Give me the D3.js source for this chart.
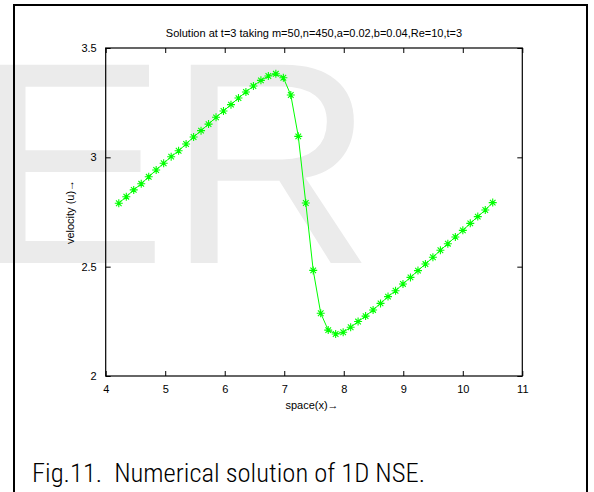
<!DOCTYPE html>
<html>
<head>
<meta charset="utf-8">
<script src="https://cdn.jsdelivr.net/npm/d3@7"></script>
<style>
html,body{margin:0;padding:0;background:#fff;}
svg{display:block;}
text{font-family:"Liberation Sans",Arial,Helvetica,sans-serif;}
</style>
</head>
<body>
<svg id="chart" width="594" height="492"></svg>
<script>
// ---- data ----
const xValues = [4.220,4.346,4.471,4.597,4.723,4.848,4.974,5.100,5.225,5.351,5.477,5.602,5.728,5.854,5.979,6.105,6.231,6.356,6.482,6.608,6.733,6.859,6.985,7.110,7.236,7.362,7.487,7.613,7.739,7.864,7.990,8.116,8.241,8.367,8.493,8.618,8.744,8.870,8.995,9.121,9.247,9.372,9.498,9.624,9.749,9.875,10.001,10.126,10.252,10.378,10.503];
const uValues = [2.790,2.820,2.851,2.879,2.911,2.942,2.973,3.003,3.030,3.061,3.093,3.122,3.152,3.183,3.212,3.241,3.271,3.299,3.326,3.352,3.372,3.382,3.364,3.285,3.096,2.791,2.483,2.287,2.210,2.192,2.200,2.223,2.249,2.274,2.302,2.332,2.363,2.390,2.421,2.451,2.482,2.512,2.543,2.575,2.605,2.636,2.666,2.698,2.729,2.759,2.793];
const xTicks = [4,5,6,7,8,9,10,11];
const yTicks = [2,2.5,3,3.5];
const titleText = "Solution at t=3 taking m=50,n=450,a=0.02,b=0.04,Re=10,t=3";
const xLabel = "space(x)\u2192";
const yLabel = "velocity (u)\u2192";
const captionText = "Fig.11.  Numerical solution of 1D NSE.";
const watermarkText = "ER";

const svg = d3.select("#chart");
const L = 105.7, R = 522.3, T = 48, B = 376;
const sans = '"Liberation Sans",Arial,sans-serif';

// watermark
svg.append("text").attr("x", -25).attr("y", 263)
  .attr("font-size", 288).attr("fill", "#ebebeb")
  .style("font-family", sans)
  .text(watermarkText);

// outer frame
svg.append("path").attr("d", "M14,492V5H587V492")
  .attr("fill", "none").attr("stroke", "#000").attr("stroke-width", 2);

const x = d3.scaleLinear().domain([4, 11]).range([L, R]);
const y = d3.scaleLinear().domain([2, 3.5]).range([B, T]);

const fmt = d => String(d);
const g = svg.append("g");
// bottom axis with inward ticks
g.append("g").attr("transform", `translate(0,${B})`)
  .call(d3.axisBottom(x).tickValues(xTicks).tickSize(-5).tickPadding(9).tickFormat(fmt))
  .call(s => { s.select(".domain").remove(); s.selectAll("text").attr("font-size", 11).attr("fill","#000").style("font-family",sans); s.selectAll("line").attr("stroke","#000"); });
// top ticks
g.append("g").attr("transform", `translate(0,${T})`)
  .call(d3.axisTop(x).tickValues(xTicks).tickSize(-5).tickFormat(""))
  .call(s => { s.select(".domain").remove(); s.selectAll("line").attr("stroke","#000"); });
// left axis
g.append("g").attr("transform", `translate(${L},0)`)
  .call(d3.axisLeft(y).tickValues(yTicks).tickSize(-5).tickPadding(9).tickFormat(fmt))
  .call(s => { s.select(".domain").remove(); s.selectAll("text").attr("font-size", 11).attr("fill","#000").style("font-family",sans); s.selectAll("line").attr("stroke","#000"); });
// right ticks
g.append("g").attr("transform", `translate(${R},0)`)
  .call(d3.axisRight(y).tickValues(yTicks).tickSize(-5).tickFormat(""))
  .call(s => { s.select(".domain").remove(); s.selectAll("line").attr("stroke","#000"); });
// box
g.append("rect").attr("x", L).attr("y", T).attr("width", R - L).attr("height", B - T)
  .attr("fill", "none").attr("stroke", "#000").attr("stroke-width", 1.2);

// data
const pts = xValues.map((v, i) => [v, uValues[i]]);
const line = d3.line().x(d => x(d[0])).y(d => y(d[1]));
svg.append("path").datum(pts).attr("d", line)
  .attr("fill", "none").attr("stroke", "#00ff00").attr("stroke-width", 1);
const star = (cx, cy) => {
  const a = 4, b = 2.8;
  return `M${cx-a},${cy}H${cx+a}M${cx},${cy-a}V${cy+a}M${cx-b},${cy-b}L${cx+b},${cy+b}M${cx-b},${cy+b}L${cx+b},${cy-b}`;
};
svg.append("g").selectAll("path").data(pts).join("path")
  .attr("d", d => star(x(d[0]), y(d[1])))
  .attr("fill", "none").attr("stroke", "#00ff00").attr("stroke-width", 1.1);

// title and labels
svg.append("text").attr("x", (L + R) / 2).attr("y", 37).attr("text-anchor", "middle")
  .attr("font-size", 11).style("font-family", sans).text(titleText);
svg.append("text").attr("x", 312).attr("y", 409).attr("text-anchor", "middle")
  .attr("font-size", 11).style("font-family", sans).text(xLabel);
svg.append("text").attr("transform", "translate(74,212) rotate(-90)").attr("text-anchor", "middle")
  .attr("font-size", 11).style("font-family", sans).text(yLabel);

// caption
svg.append("text").attr("x", 32).attr("y", 482)
  .attr("font-size", 25).attr("font-weight", 300)
  .attr("textLength", 393).attr("lengthAdjust", "spacingAndGlyphs")
  .style("white-space", "pre")
  .style("font-family", '"Liberation Sans Narrow","Roboto Condensed",Roboto,sans-serif')
  .text(captionText);
</script>
</body>
</html>
